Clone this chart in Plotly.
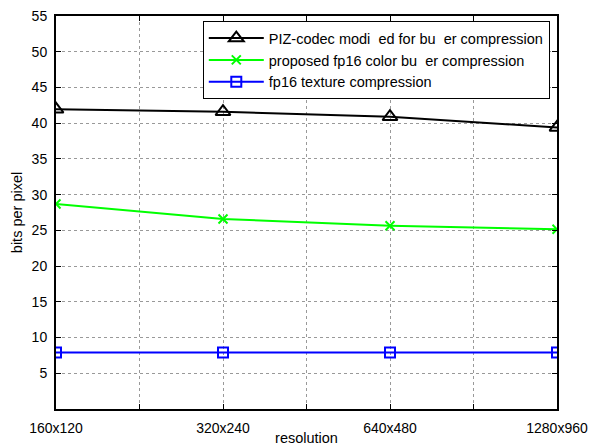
import plotly.graph_objects as go

resolutions = ["160x120", "320x240", "640x480", "1280x960"]
x_pos = [0, 1, 2, 3]
piz_codec = [41.95, 41.6, 40.9, 39.4]
proposed_fp16 = [28.7, 26.6, 25.65, 25.15]
fp16_texture = [7.9, 7.9, 7.9, 7.9]

names = [
    "PIZ-codec modi\u00a0\u00a0ed for bu\u00a0\u00a0er compression",
    "proposed fp16 color bu\u00a0\u00a0er compression",
    "fp16 texture compression",
]

y_ticks = [5, 10, 15, 20, 25, 30, 35, 40, 45, 50, 55]
x_ticks = [0, 0.5, 1, 1.5, 2, 2.5, 3]
x_ticktext = ["160x120", "", "320x240", "", "640x480", "", "1280x960"]

fig = go.Figure()
fig.add_trace(go.Scatter(
    x=x_pos, y=piz_codec, mode="lines+markers", name=names[0],
    line=dict(color="black", width=2),
    marker=dict(symbol="triangle-up-open", size=13, color="black", line=dict(width=2, color="black")),
))
fig.add_trace(go.Scatter(
    x=x_pos, y=proposed_fp16, mode="lines+markers", name=names[1],
    line=dict(color="#00ff00", width=2),
    marker=dict(symbol="x-thin-open", size=9, color="#00ff00", line=dict(width=2, color="#00ff00")),
))
fig.add_trace(go.Scatter(
    x=x_pos, y=fp16_texture, mode="lines+markers", name=names[2],
    line=dict(color="#0000ff", width=2),
    marker=dict(symbol="square-open", size=10, color="#0000ff", line=dict(width=2, color="#0000ff")),
))

font = "Liberation Sans, Arial, sans-serif"
fig.update_layout(
    width=594, height=446,
    margin=dict(l=56, r=37, t=16, b=37),
    paper_bgcolor="white", plot_bgcolor="white",
    font=dict(family=font, size=14, color="black"),
    showlegend=True,
    legend=dict(
        x=0.293, y=0.987, xanchor="left", yanchor="top",
        bgcolor="white", bordercolor="black", borderwidth=1,
        font=dict(size=14.5, family=font, color="black"),
        itemwidth=55, tracegroupgap=0,
    ),
    xaxis=dict(
        range=[0, 3], tickvals=x_ticks, ticktext=x_ticktext,
        showline=True, linecolor="black", linewidth=2, mirror="allticks",
        ticks="inside", ticklen=5, tickcolor="black", tickwidth=1,
        showgrid=True, gridcolor="#999999", griddash="dot", gridwidth=1,
        zeroline=False, ticklabelstandoff=5, automargin=False,
        tickfont=dict(size=14),
        title=dict(text="resolution", font=dict(size=14.5)),
    ),
    yaxis=dict(
        range=[0, 55], tickvals=y_ticks,
        showline=True, linecolor="black", linewidth=2, mirror="allticks",
        ticks="inside", ticklen=5, tickcolor="black", tickwidth=1,
        showgrid=True, gridcolor="#999999", griddash="dot", gridwidth=1,
        zeroline=False, ticklabelstandoff=4, automargin=False,
        tickfont=dict(size=14),
        title=dict(text="bits per pixel", font=dict(size=14.5), standoff=6),
    ),
)

fig.write_html("out.html")
